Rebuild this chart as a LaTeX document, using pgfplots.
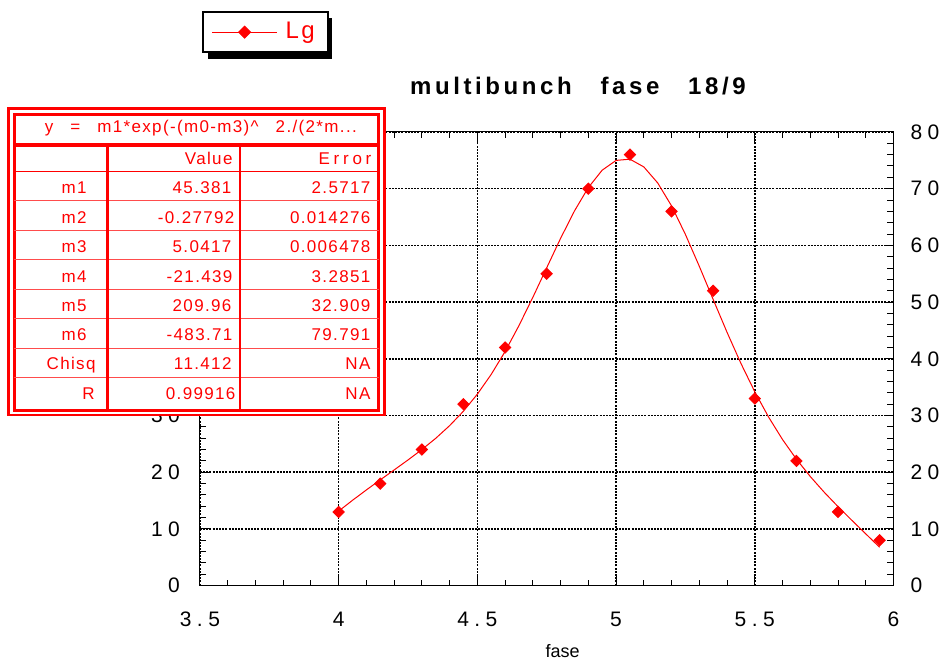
\documentclass[border=0pt]{standalone}
\usepackage{fontspec}
\setmainfont{Liberation Sans}
\usepackage{pgfplots}
\pgfplotsset{compat=1.18}
\newfontfamily\tickfont{Liberation Sans}[LetterSpace=26]
\newfontfamily\titlefont{Liberation Sans}[LetterSpace=15]
\newfontfamily\tabfont{Liberation Sans}[LetterSpace=8]
\newfontfamily\errfont{Liberation Sans}[LetterSpace=22]
\newfontfamily\legfont{Liberation Sans}[LetterSpace=10]
\newcommand{\tf}{\tabfont\fontsize{8.5}{10}\selectfont}

\begin{document}
\begin{tikzpicture}
\begin{scope}[x=0.5pt,y=-0.5pt]
\path[use as bounding box] (0,0) rectangle (946,664);
\fill[black] (208,18) rectangle (332,59);
\end{scope}
\begin{axis}[
  at={(100pt,-293pt)}, anchor=south west,
  scale only axis, width=347pt, height=227pt,
  xmin=3.5, xmax=6, ymin=0, ymax=80,
  xtick={3.5,4,4.5,5,5.5,6}, xticklabels={3.5,4,4.5,5,5.5,6},
  ytick={0,10,...,80}, yticklabels={0,10,20,30,,,,,},
  minor x tick num=4, minor y tick num=4,
  tick align=inside, major tick length=5pt, minor tick length=3pt,
  tick style={black, line width=0.5pt},
  axis line style={black, line width=0.5pt},
  grid=major, major grid style={black, line width=0.8pt, dash pattern=on 1pt off 0.6pt},
  ticklabel style={font=\tickfont\fontsize{10.5}{12}\selectfont},
  xticklabel style={yshift=-9.5pt},
  yticklabel style={xshift=-6.5pt},
  title={multibunch\hspace{1.2em}fase\hspace{1.2em}18/9},
  title style={font=\titlefont\bfseries\fontsize{12}{14}\selectfont, at={(axis description cs:0.545,1.0738)}, anchor=center, inner sep=0pt},
  xlabel={fase},
  xlabel style={font=\fontsize{9}{11}\selectfont, at={(axis description cs:0.523,-0.1447)}, anchor=center, inner sep=0pt},
  legend style={at={(axis description cs:0.0025,1.2665)}, anchor=north west, draw=black, line width=1pt, fill=white, inner xsep=4.5pt, inner ysep=3.2pt, font=\legfont\fontsize{12}{14}\selectfont, text=red},
  legend image code/.code={\draw[mark repeat=2, mark phase=2, #1, line width=0.5pt] plot coordinates {(0pt,0pt) (16.25pt,0pt) (32.5pt,0pt)};},
]
\addlegendimage{red, line width=0.5pt, mark=square*, mark size=2.1pt, mark options={rotate=45, solid, fill=red, draw=red}}
\addlegendentry{\hspace{2pt}Lg}
\addplot[red, line width=0.5pt, forget plot] coordinates {
(4.00,13.14)(4.05,15.05)(4.10,16.88)(4.15,18.65)(4.20,20.40)(4.25,22.16)(4.30,24.00)(4.35,25.98)(4.40,28.21)(4.45,30.77)(4.50,33.76)(4.55,37.25)(4.60,41.28)(4.65,45.85)(4.70,50.83)(4.75,56.04)(4.80,61.23)(4.85,66.06)(4.90,70.19)(4.95,73.26)(5.00,74.98)(5.05,75.20)(5.10,73.84)(5.15,71.02)(5.20,66.96)(5.25,61.93)(5.30,56.32)(5.35,50.47)(5.40,44.68)(5.45,39.20)(5.50,34.19)(5.55,29.71)(5.60,25.77)(5.65,22.31)(5.70,19.25)(5.75,16.49)(5.80,13.94)(5.85,11.52)(5.90,9.14)(5.95,6.77)};
\addplot[only marks, mark=square*, mark size=2pt, mark options={rotate=45, fill=red, draw=red}, forget plot] coordinates {
(4.00,13)(4.15,18)(4.30,24)(4.45,32)(4.60,42)(4.75,55)(4.90,70)(5.05,76)(5.20,66)(5.35,52)(5.50,33)(5.65,22)(5.80,13)(5.95,8)};
\end{axis}
\begin{axis}[
  at={(100pt,-293pt)}, anchor=south west,
  scale only axis, width=347pt, height=227pt,
  xmin=3.5, xmax=6, ymin=0, ymax=80,
  xtick=\empty, ytick={0,10,...,80}, yticklabels={0,10,20,30,40,50,60,70,80},
  yticklabel pos=right, major tick length=0pt,
  axis line style={draw=none},
  ticklabel style={font=\tickfont\fontsize{10.5}{12}\selectfont},
  yticklabel style={xshift=5pt},
]
\end{axis}
\begin{scope}[x=0.5pt,y=-0.5pt, red]
\fill[white] (7,107) rectangle (386,416.5);
\draw[line width=1.25pt] (8.7,108.7) rectangle (384.7,415.3);
\draw[line width=1.5pt] (14.3,114.3) rectangle (379.2,410.5);
\draw[line width=2pt] (14.3,144.7) -- (379.2,144.7);
\draw[line width=0.6pt] (14.3,171.7) -- (379.2,171.7);
\foreach \y in {201,230.7,260,289.3,319,348.3,377.7} \draw[red!70, line width=0.5pt] (14.3,\y) -- (379.2,\y);
\draw[line width=1.5pt] (107.3,144.7) -- (107.3,410.5);
\draw[line width=1pt] (240.3,144.7) -- (240.3,410.5);
\node[anchor=base, inner sep=0pt, font=\tf] at (201,132.3) {y\hspace{1em}=\hspace{1em}m1*exp(-(m0-m3)\textasciicircum\hspace{1em}2./(2*m...};
\node[anchor=base east, inner sep=0pt, font=\tf] at (233,164.3) {Value};
\node[anchor=base east, inner sep=0pt, font=\errfont\fontsize{8.5}{10}\selectfont] at (372,164.3) {Error};
% labels
\node[anchor=base east, inner sep=0pt, font=\tf] at (87,194) {m1};
\node[anchor=base east, inner sep=0pt, font=\tf] at (87,223.3) {m2};
\node[anchor=base east, inner sep=0pt, font=\tf] at (87,252.7) {m3};
\node[anchor=base east, inner sep=0pt, font=\tf] at (87,282.3) {m4};
\node[anchor=base east, inner sep=0pt, font=\tf] at (87,311.7) {m5};
\node[anchor=base east, inner sep=0pt, font=\tf] at (87,340.7) {m6};
\node[anchor=base east, inner sep=0pt, font=\tf] at (96,370) {Chisq};
\node[anchor=base east, inner sep=0pt, font=\tf] at (95,399.3) {R};
% values
\node[anchor=base east, inner sep=0pt, font=\tf] at (232,194) {45.381};
\node[anchor=base east, inner sep=0pt, font=\tf] at (235,223.3) {-0.27792};
\node[anchor=base east, inner sep=0pt, font=\tf] at (232,252.7) {5.0417};
\node[anchor=base east, inner sep=0pt, font=\tf] at (233,282.3) {-21.439};
\node[anchor=base east, inner sep=0pt, font=\tf] at (232,311.7) {209.96};
\node[anchor=base east, inner sep=0pt, font=\tf] at (233,340.7) {-483.71};
\node[anchor=base east, inner sep=0pt, font=\tf] at (232,370) {11.412};
\node[anchor=base east, inner sep=0pt, font=\tf] at (236,399.3) {0.99916};
% errors
\node[anchor=base east, inner sep=0pt, font=\tf] at (371,194) {2.5717};
\node[anchor=base east, inner sep=0pt, font=\tf] at (371,223.3) {0.014276};
\node[anchor=base east, inner sep=0pt, font=\tf] at (371,252.7) {0.006478};
\node[anchor=base east, inner sep=0pt, font=\tf] at (371,282.3) {3.2851};
\node[anchor=base east, inner sep=0pt, font=\tf] at (371,311.7) {32.909};
\node[anchor=base east, inner sep=0pt, font=\tf] at (371,340.7) {79.791};
\node[anchor=base east, inner sep=0pt, font=\tf] at (371,370) {NA};
\node[anchor=base east, inner sep=0pt, font=\tf] at (371,399.3) {NA};
\end{scope}
\end{tikzpicture}
\end{document}
